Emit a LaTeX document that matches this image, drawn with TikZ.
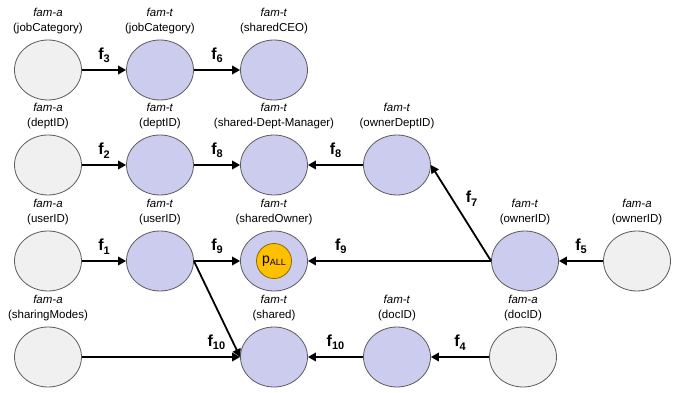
\documentclass[tikz,border=0pt]{standalone}
\usepackage{fontspec}
\setmainfont{Liberation Sans}
\usetikzlibrary{arrows.meta,shapes.geometric}

\definecolor{famafill}{HTML}{F0F0F0}
\definecolor{famtfill}{HTML}{CCCCEE}
\definecolor{ringline}{HTML}{5A5A5A}
\definecolor{pallfill}{HTML}{FFC000}
\definecolor{pallline}{HTML}{8A6A00}

\newcommand{\edgelab}[1]{\textbf{f}\raisebox{-3.5pt}{\fontsize{11}{11}\selectfont\textbf{#1}}}

\tikzset{
  fam/.style={ellipse, draw=ringline, line width=0.8pt, minimum width=67pt,
    minimum height=60pt, inner sep=0pt},
  famlab/.style={align=center, inner sep=1pt, yshift=5pt, font=\fontsize{11.5}{15}\selectfont},
  link/.style={line width=1.8pt, -{Triangle[length=8pt,width=8.5pt]}},
  flab/.style={inner sep=1pt, font=\fontsize{16}{18}\selectfont},
  pall/.style={circle, fill=pallfill, draw=pallline, line width=0.8pt,
    minimum size=35pt, inner sep=0pt, font=\fontsize{14}{16}\selectfont}
}

\begin{document}
\begin{tikzpicture}[x=1pt,y=-1pt]
    \useasboundingbox (0,0) rectangle (680,393);
    % Draw the attribute families
    \foreach \nm/\x/\y/\kind/\txt in {
            aJob/48/70/a/jobCategory, tJob/160/70/t/jobCategory, tCEO/274/70/t/sharedCEO,
            aDept/48/165/a/deptID, tDept/160/165/t/deptID, tMgr/274/165/t/shared-Dept-Manager,
            tOwnDept/397/165/t/ownerDeptID,
            aUser/48/261/a/userID, tUser/160/261/t/userID, tSOwner/274/261/t/sharedOwner,
            tOwner/525/261/t/ownerID, aOwner/637/261/a/ownerID,
            aShM/48/357/a/sharingModes, tShared/274/357/t/shared,
            tDoc/397/357/t/docID, aDoc/523/357/a/docID} {
            \node[fam, fill=fam\kind fill,
                label={[famlab]above:{\textit{fam-\kind}\\(\txt)}}] (\nm) at (\x,\y) {};
        }
    % Policy marker
    \node[pall] (pAll) at (tSOwner) {p\raisebox{-2.5pt}{\fontsize{9}{9}\selectfont ALL}};
    % Draw the mappings
    \draw[link] (aJob) -- node[flab, above=5pt] {\edgelab{3}} (tJob);
    \draw[link] (tJob) -- node[flab, above=5pt] {\edgelab{6}} (tCEO);
    \draw[link] (aDept) -- node[flab, above=5pt] {\edgelab{2}} (tDept);
    \draw[link] (tDept) -- node[flab, above=5pt] {\edgelab{8}} (tMgr);
    \draw[link] (tOwnDept) -- node[flab, above=5pt] {\edgelab{8}} (tMgr);
    \draw[link] (aUser) -- node[flab, above=5pt] {\edgelab{1}} (tUser);
    \draw[link] (tUser) -- node[flab, above=5pt] {\edgelab{9}} (tSOwner);
    \draw[link] (tOwner.west) -- node[flab, above=5pt, pos=0.82] {\edgelab{9}} (tSOwner);
    \draw[link] (tOwner.west) -- node[flab, right, pos=0.65, xshift=12pt] {\edgelab{7}} (tOwnDept.east);
    \draw[link] (aOwner) -- node[flab, above=5pt] {\edgelab{5}} (tOwner);
    \draw[link] (tUser.east) -- (tShared.west);
    \draw[link] (aShM) -- node[flab, above=5pt, pos=0.85] {\edgelab{10}} (tShared);
    \draw[link] (tDoc) -- node[flab, above=5pt] {\edgelab{10}} (tShared);
    \draw[link] (aDoc) -- node[flab, above=5pt] {\edgelab{4}} (tDoc);
\end{tikzpicture}
\end{document}
